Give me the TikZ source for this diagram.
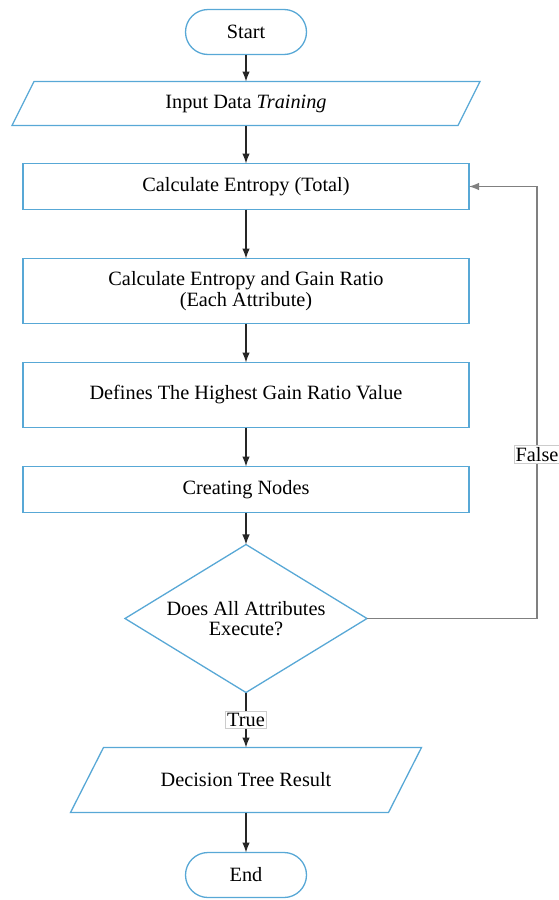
\documentclass[tikz,border=0pt]{standalone}
\usepackage{fontspec}
\setmainfont{Liberation Serif}
\usepackage{xcolor}
\usepackage{tikz}
\usetikzlibrary{arrows.meta,positioning,shapes.geometric}

\definecolor{flowblue}{RGB}{88,168,214}

\begin{document}
\begin{tikzpicture}[>={Latex[length=10pt,width=7.5pt]}]
	  \tikzset{base/.style={draw=flowblue, line width=1.3pt, fill=white, align=center, outer sep=0pt,
	  		font=\fontsize{20.3}{20.5}\selectfont},
	  	terminal/.style={base, rectangle, rounded corners=22.5pt, minimum width=121pt, minimum height=45pt},
	  	block/.style={base, rectangle, minimum width=446pt},
	  	io/.style={base, rectangle, draw=none, fill=none}, % outline drawn below
	  	outline/.style={draw=flowblue, line width=1.3pt, line join=miter},
	  	decision/.style={base, diamond, aspect=1.64, inner sep=0pt, minimum width=242pt, minimum height=148pt},
	  	flow/.style={->, line width=1.2pt, black!85},
	  	loopline/.style={->, line width=1.2pt, black!50},
	  	lbl/.style={draw=black!20, line width=0.6pt, fill=white, text=black, inner sep=1.5pt,
	  		font=\fontsize{20.3}{20.5}\selectfont},
	  }
	  \useasboundingbox (0,0) rectangle (558pt,-900pt);
	  \node [terminal] (start) at (246pt,-32pt) {Start};
	  \node [io, below=27pt of start, minimum width=446pt, minimum height=44pt] (input) {Input Data \textit{Training}};
	  \node [block, below=38pt of input, minimum height=46pt] (entropy) {Calculate Entropy (Total)};
	  \node [block, below=49pt of entropy, minimum height=65pt] (gain) {Calculate Entropy and Gain Ratio\\(Each Attribute)};
	  \node [block, below=39pt of gain, minimum height=65pt] (highest) {Defines The Highest Gain Ratio Value};
	  \node [block, below=39pt of highest, minimum height=46pt] (nodes) {Creating Nodes};
	  \node [decision, below=32pt of nodes] (check) {Does All Attributes\\Execute?};
	  \node [io, below=55pt of check, minimum width=318pt, minimum height=65pt] (result) {Decision Tree Result};
	  \node [terminal, below=40pt of result] (end) {End};
	  \coordinate [right=170pt of check.east] (back);

	  %% parallelograms
	  \draw[outline] ([xshift=11pt]input.north west) -- ([xshift=11pt]input.north east)
	  -- ([xshift=-11pt]input.south east) -- ([xshift=-11pt]input.south west) -- cycle;
	  \draw[outline] ([xshift=16.5pt]result.north west) -- ([xshift=16.5pt]result.north east)
	  -- ([xshift=-16.5pt]result.south east) -- ([xshift=-16.5pt]result.south west) -- cycle;

	  %% paths
	  \path[draw,flow] (start) edge (input)
	  (input) edge (entropy)
	  (entropy) edge (gain)
	  (gain) edge (highest)
	  (highest) edge (nodes)
	  (nodes) edge (check)
	  (check) edge node[lbl] {True} (result)
	  (result) edge (end)
	  ;
	  \draw[loopline] (check.east) -- (back) |- node[lbl, pos=0.19] {False} (entropy.east);
	  \end{tikzpicture}
\end{document}
